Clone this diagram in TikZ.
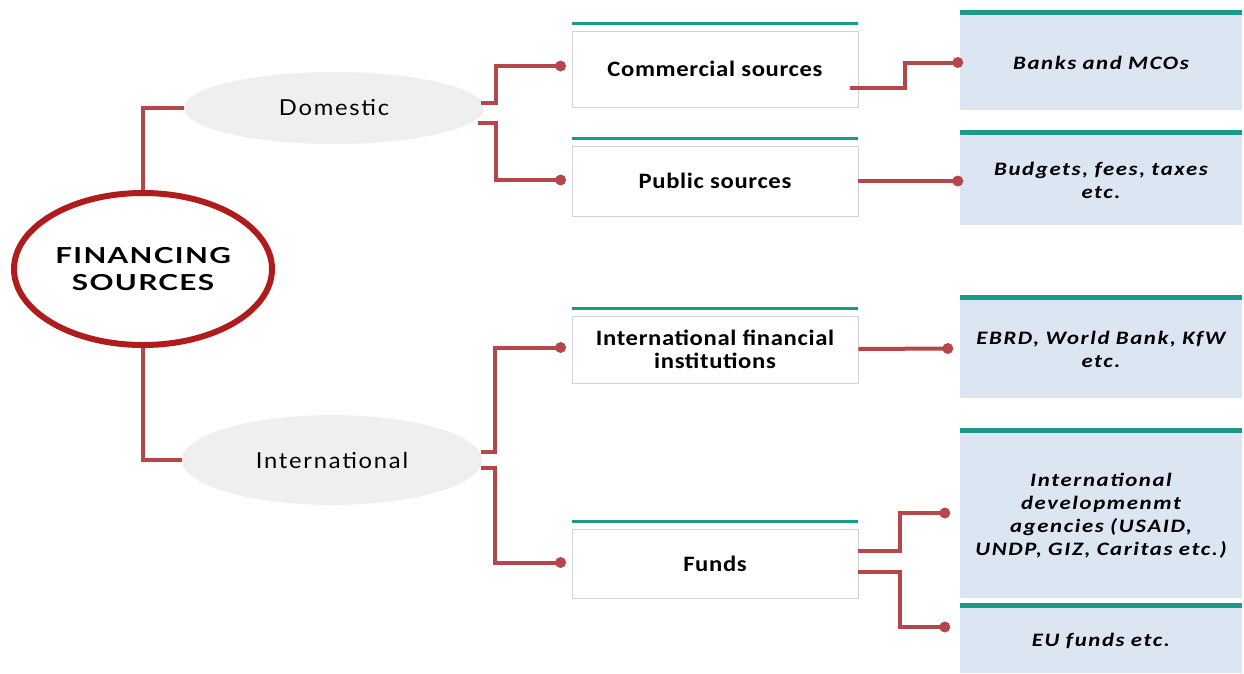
\documentclass[tikz,border=0pt]{standalone}
\usepackage{fontspec}
\setmainfont{Carlito}
\newfontfamily\gill{Lato}
\usetikzlibrary{shapes.geometric,calc}
\definecolor{conn}{HTML}{B5474B}
\definecolor{ringred}{HTML}{B01C1C}
\definecolor{teal}{HTML}{1A9A8A}
\definecolor{ellgray}{HTML}{EFEFEF}
\definecolor{boxgray}{HTML}{D4D4D4}
\definecolor{lightblue}{HTML}{DCE6F2}
\tikzset{
  root/.style={ellipse,draw=ringred,line width=6pt,fill=white,minimum width=258pt,minimum height=152pt,inner sep=0pt,align=center,font=\gill\fontsize{22}{27}\selectfont\bfseries\addfontfeature{FakeStretch=1.35,LetterSpace=6}},
  lvl/.style={ellipse,fill=ellgray,draw=none,minimum width=300pt,inner sep=0pt,font=\gill\fontsize{22}{26}\selectfont\addfontfeature{FakeStretch=1.08,LetterSpace=8}},
  midbox/.style={rectangle,draw=boxgray,line width=0.8pt,fill=white,minimum width=286pt,inner sep=0pt,align=center,font=\fontsize{22}{23}\selectfont\bfseries\addfontfeature{FakeStretch=1.12,LetterSpace=3}},
  rightbox/.style={rectangle,fill=lightblue,draw=none,minimum width=282pt,text width=278pt,inner sep=0pt,align=center,font=\fontsize{19}{23}\selectfont\bfseries\itshape\addfontfeature{FakeStretch=1.2,LetterSpace=8.5}},
  wire/.style={draw=conn,line width=4pt},
  dot/.style={circle,fill=conn,inner sep=0pt,minimum size=11pt},
}
\begin{document}
\begin{tikzpicture}[x=1pt,y=-1pt]
\useasboundingbox (0,0) rectangle (1244,673);
% root and level nodes
\node[root] (root) at (143,269) {FINANCING\\SOURCES};
\node[lvl,minimum height=72pt] (dom) at (334,108) {Domestic};
\node[lvl,minimum height=90pt] (intl) at (332,460) {International};
% middle boxes
\node[midbox,minimum height=76pt] (com) at (715,69) {Commercial sources};
\node[midbox,minimum height=70pt] (pub) at (715,181) {Public sources};
\node[midbox,minimum height=67pt] (ifi) at (715,349.5) {International financial\\institutions};
\node[midbox,minimum height=69pt] (fund) at (715,563.5) {Funds};
% right boxes
\node[rightbox,minimum height=95pt] (bank) at (1101,62.5) {Banks and MCOs};
\node[rightbox,minimum height=90pt] (budg) at (1101,180) {Budgets, fees, taxes\\etc.};
\node[rightbox,minimum height=98pt] (ebrd) at (1101,349) {EBRD, World Bank, KfW\\etc.};
\node[rightbox,minimum height=165pt] (agen) at (1101,515.5) {International\\developmenmt\\agencies (USAID,\\UNDP, GIZ, Caritas etc.)};
\node[rightbox,minimum height=65pt] (eu) at (1101,640.5) {EU funds etc.};
% teal bars
\foreach \n in {com,pub,ifi,fund}
  \draw[teal,line width=3.5pt] ($(\n.north west)+(0,-7)$) -- ($(\n.north east)+(0,-7)$);
\foreach \n in {bank,budg,ebrd,agen,eu}
  \draw[teal,line width=5pt] ($(\n.north west)+(0,-2)$) -- ($(\n.north east)+(0,-2)$);
% connectors root -> level
\draw[wire] (root.north) |- (dom.west);
\draw[wire] (root.south) |- (intl.west);
% level -> middle
\draw[wire] ($(dom.east)+(-3,-5)$) -- ++(15,0) |- ($(com.west)+(-11,-3)$) node[dot] (d1) {};
\draw[wire] ($(dom.east)+(-6,15)$) -- ++(18,0) |- ($(pub.west)+(-11,-1)$) node[dot] (d2) {};
\draw[wire] ($(intl.east)+(-1,-8)$) -- ++(14,0) |- ($(ifi.west)+(-11,-2)$) node[dot] (d3) {};
\draw[wire] ($(intl.east)+(-1,8)$) -- ++(14,0) |- ($(fund.west)+(-11,-1)$) node[dot] (d4) {};
% middle -> right
\draw[wire] ($(com.east)+(-8,19)$) -- ++(55,0) |- ($(bank.west)+(-2,0)$) node[dot] (e1) {};
\draw[wire] (pub.east) -- ($(budg.west)+(-2,1)$) node[dot] (e2) {};
\draw[wire] ($(ifi.east)+(0,-0.5)$) -- ($(ebrd.west)+(-12,-0.5)$) node[dot] (e3) {};
\draw[wire] ($(fund.east)+(0,-12.5)$) -- ++(42,0) |- ($(agen.west)+(-15,-2.5)$) node[dot] (e4) {};
\draw[wire] ($(fund.east)+(0,8.5)$) -- ++(42,0) |- ($(eu.west)+(-15,-13.5)$) node[dot] (e5) {};
\end{tikzpicture}
\end{document}
